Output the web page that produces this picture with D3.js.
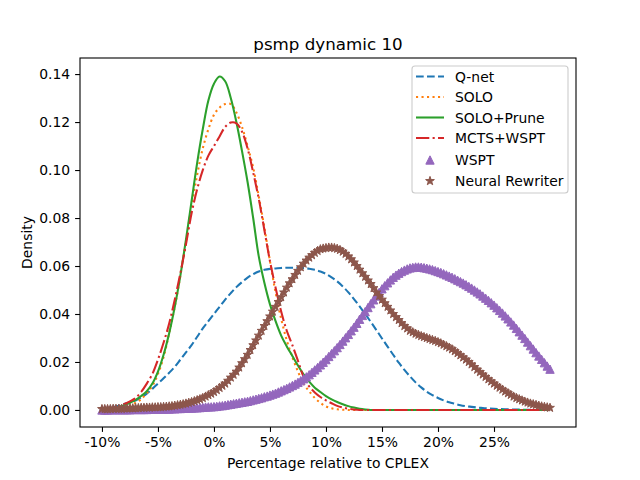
<!DOCTYPE html>
<html>
<head>
<meta charset="utf-8">
<script src="https://cdn.jsdelivr.net/npm/d3@7"></script>
<style>
  body { margin: 0; background: #fff; }
  svg text { font-family: "DejaVu Sans", sans-serif; fill: #000; }
</style>
</head>
<body>
<svg id="chart" width="640" height="480"></svg>
<script>
// x grid of the line curves (percent relative to CPLEX), half steps
var xLine = [-10,-9.5,-9,-8.5,-8,-7.5,-7,-6.5,-6,-5.5,-5,-4.5,-4,-3.5,-3,-2.5,-2,-1.5,-1,-0.5,0,0.5,1,1.5,2,2.5,3,3.5,4,4.5,5,5.5,6,6.5,7,7.5,8,8.5,9,9.5,10,10.5,11,11.5,12,12.5,13,13.5,14,14.5,15,15.5,16,16.5,17,17.5,18,18.5,19,19.5,20,20.5,21,21.5,22,22.5,23,23.5,24,24.5,25,25.5,26,26.5,27,27.5,28,28.5,29,29.5,30];

var qnet = [0.0003,0.0007,0.0012,0.0018,0.0025,0.0031,0.0039,0.0052,0.0068,0.0088,0.011,0.0132,0.0155,0.018,0.021,0.024,0.027,0.0305,0.034,0.037,0.040,0.043,0.046,0.0487,0.0512,0.0533,0.0552,0.0566,0.0577,0.0584,0.0588,0.059,0.0592,0.0593,0.0593,0.0593,0.0592,0.0589,0.0584,0.0577,0.0567,0.0553,0.0536,0.0515,0.049,0.0462,0.0432,0.040,0.0367,0.0333,0.0298,0.0264,0.023,0.0197,0.0167,0.014,0.0115,0.0094,0.0076,0.0062,0.005,0.004,0.0032,0.0026,0.002,0.0016,0.0013,0.001,0.0008,0.0006,0.0005,0.0004,0.0003,0.0002,0.0002,0.0001,0.0001,0,0,0,0];
var solo = [0.0002,0.0003,0.0005,0.0007,0.001,0.0018,0.003,0.0045,0.007,0.010,0.015,0.022,0.032,0.043,0.056,0.070,0.085,0.098,0.109,0.117,0.123,0.126,0.1275,0.1275,0.124,0.118,0.110,0.101,0.089,0.076,0.062,0.049,0.038,0.029,0.022,0.016,0.011,0.0078,0.005,0.003,0.0015,0.0007,0.0003,0.0001,0,0,0,0,0,0,0,0,0,0,0,0,0,0,0,0,0,0,0,0,0,0,0,0,0,0,0,0,0,0,0,0,0,0,0,0,0];
var soloPrune = [0.0003,0.0005,0.0008,0.0013,0.002,0.003,0.0042,0.0058,0.0078,0.011,0.016,0.023,0.032,0.043,0.056,0.071,0.087,0.103,0.117,0.129,0.136,0.139,0.137,0.130,0.120,0.108,0.095,0.080,0.064,0.053,0.044,0.037,0.031,0.0265,0.0225,0.0185,0.0148,0.0118,0.0093,0.0075,0.0058,0.0044,0.0033,0.0024,0.0016,0.001,0.0005,0.0002,0,0,0,0,0,0,0,0,0,0,0,0,0,0,0,0,0,0,0,0,0,0,0,0,0,0,0,0,0,0,0,0,0];
var mctsWspt = [0.0003,0.0006,0.001,0.0016,0.0025,0.0036,0.005,0.0075,0.011,0.015,0.021,0.028,0.036,0.046,0.057,0.069,0.082,0.092,0.100,0.106,0.110,0.114,0.118,0.1198,0.1195,0.116,0.109,0.099,0.088,0.075,0.062,0.051,0.041,0.033,0.027,0.0205,0.0138,0.0098,0.0073,0.0054,0.004,0.0028,0.0017,0.001,0.0005,0.0002,0,0,0,0,0,0,0,0,0,0,0,0,0,0,0,0,0,0,0,0,0,0,0,0,0,0,0,0,0,0,0,0,0,0,0];

// x grid of the marker series, quarter steps
var xMark = [-10,-9.75,-9.5,-9.25,-9,-8.75,-8.5,-8.25,-8,-7.75,-7.5,-7.25,-7,-6.75,-6.5,-6.25,-6,-5.75,-5.5,-5.25,-5,-4.75,-4.5,-4.25,-4,-3.75,-3.5,-3.25,-3,-2.75,-2.5,-2.25,-2,-1.75,-1.5,-1.25,-1,-0.75,-0.5,-0.25,0,0.25,0.5,0.75,1,1.25,1.5,1.75,2,2.25,2.5,2.75,3,3.25,3.5,3.75,4,4.25,4.5,4.75,5,5.25,5.5,5.75,6,6.25,6.5,6.75,7,7.25,7.5,7.75,8,8.25,8.5,8.75,9,9.25,9.5,9.75,10,10.25,10.5,10.75,11,11.25,11.5,11.75,12,12.25,12.5,12.75,13,13.25,13.5,13.75,14,14.25,14.5,14.75,15,15.25,15.5,15.75,16,16.25,16.5,16.75,17,17.25,17.5,17.75,18,18.25,18.5,18.75,19,19.25,19.5,19.75,20,20.25,20.5,20.75,21,21.25,21.5,21.75,22,22.25,22.5,22.75,23,23.25,23.5,23.75,24,24.25,24.5,24.75,25,25.25,25.5,25.75,26,26.25,26.5,26.75,27,27.25,27.5,27.75,28,28.25,28.5,28.75,29,29.25,29.5,29.75,30];

var wspt = [0,0,0,0.0001,0.0001,0.0001,0.0001,0.0001,0.0001,0.0001,0.0001,0.0002,0.0002,0.0002,0.0002,0.0002,0.0002,0.0003,0.0003,0.0003,0.0003,0.0004,0.0004,0.0004,0.0004,0.0005,0.0005,0.0006,0.0006,0.0007,0.0007,0.0008,0.0008,0.0009,0.0009,0.001,0.0011,0.0012,0.0013,0.0013,0.0014,0.0015,0.0017,0.0018,0.002,0.0022,0.0024,0.0026,0.0028,0.003,0.0032,0.0034,0.0036,0.0039,0.0042,0.0045,0.0048,0.0051,0.0055,0.0058,0.0062,0.0066,0.007,0.0075,0.008,0.0085,0.009,0.0096,0.0102,0.0108,0.0115,0.0122,0.013,0.0138,0.0147,0.0157,0.0167,0.0177,0.0188,0.0199,0.021,0.0223,0.0235,0.0247,0.026,0.0273,0.0287,0.0301,0.0315,0.033,0.0345,0.0361,0.0378,0.0394,0.041,0.0427,0.0443,0.0459,0.0475,0.049,0.0505,0.0518,0.053,0.0542,0.0553,0.0562,0.057,0.0577,0.0583,0.0588,0.0592,0.0594,0.0596,0.0596,0.0595,0.0593,0.0591,0.0588,0.0585,0.0581,0.0577,0.0573,0.0568,0.0563,0.0558,0.0553,0.0547,0.0541,0.0535,0.0529,0.0522,0.0515,0.0508,0.05,0.0492,0.0484,0.0475,0.0466,0.0457,0.0447,0.0437,0.0426,0.0415,0.0404,0.0392,0.038,0.0367,0.0354,0.034,0.0326,0.0312,0.0298,0.0283,0.0268,0.0254,0.0239,0.0225,0.0211,0.0197,0.0183,0.017];
var rewriter = [0.0004,0.0004,0.0004,0.0004,0.0005,0.0005,0.0005,0.0005,0.0006,0.0006,0.0007,0.0007,0.0008,0.0008,0.0009,0.0009,0.001,0.001,0.0011,0.0011,0.0012,0.0012,0.0013,0.0014,0.0015,0.0016,0.0018,0.002,0.0022,0.0024,0.0027,0.003,0.0033,0.0037,0.0041,0.0045,0.005,0.0056,0.0062,0.0068,0.0075,0.0083,0.0092,0.0101,0.011,0.0122,0.0135,0.0147,0.016,0.0177,0.0195,0.0212,0.023,0.025,0.027,0.029,0.031,0.033,0.035,0.037,0.039,0.041,0.043,0.045,0.047,0.049,0.051,0.0528,0.0545,0.0563,0.058,0.0595,0.061,0.0623,0.0635,0.0645,0.0655,0.0663,0.067,0.0673,0.0675,0.0677,0.0677,0.0675,0.0672,0.0667,0.066,0.0651,0.064,0.0628,0.0615,0.06,0.0585,0.057,0.0555,0.054,0.0525,0.0508,0.049,0.0475,0.046,0.0445,0.043,0.0415,0.040,0.0387,0.0375,0.0362,0.035,0.034,0.033,0.0324,0.0318,0.0313,0.0308,0.0304,0.030,0.0296,0.0292,0.0288,0.0283,0.0278,0.0272,0.0266,0.026,0.0253,0.0245,0.0237,0.0228,0.0219,0.021,0.02,0.019,0.0179,0.0168,0.0158,0.0148,0.0138,0.0128,0.0119,0.011,0.0101,0.0093,0.0085,0.0077,0.007,0.0063,0.0056,0.005,0.0045,0.004,0.0035,0.0031,0.0027,0.0024,0.0021,0.0018,0.0015,0.0013,0.0011,0.0009];

var xTicks = [-10,-5,0,5,10,15,20,25];
var xTickLabels = ['-10%','-5%','0%','5%','10%','15%','20%','25%'];
var yTicks = [0,0.02,0.04,0.06,0.08,0.10,0.12,0.14];
var yTickLabels = ['0.00','0.02','0.04','0.06','0.08','0.10','0.12','0.14'];

var svg = d3.select('#chart');
// plot box (top is a reserved window prop, so prefixed)
var axL = 80, axR = 576, axT = 58, axB = 427;

var x = d3.scaleLinear().domain([-11.96, 32.32]).range([axL, axR]);
var y = d3.scaleLinear().domain([-0.0071, 0.1467]).range([axB, axT]);

var plot = svg.append('g');
plot.append('clipPath').attr('id', 'clip')
  .append('rect').attr('x', axL).attr('y', axT).attr('width', axR - axL).attr('height', axB - axT);

var line = d3.line()
  .x(function(d) { return x(d[0]); })
  .y(function(d) { return y(d[1]); })
  .curve(d3.curveCatmullRom.alpha(0.5));

function zip(xs, ys) {
  return xs.map(function(v, i) { return [v, ys[i]]; });
}

// line series, matplotlib styles
var lineSeries = [
  { name: 'Q-net', data: qnet, color: '#1f77b4', dash: '7.7,3.3' },
  { name: 'SOLO', data: solo, color: '#ff7f0e', dash: '2.1,3.4' },
  { name: 'SOLO+Prune', data: soloPrune, color: '#2ca02c', dash: null },
  { name: 'MCTS+WSPT', data: mctsWspt, color: '#d62728', dash: '13.3,3.3,2.1,3.3' }
];

var g = plot.append('g').attr('clip-path', 'url(#clip)');
lineSeries.forEach(function(s) {
  g.append('path')
    .attr('d', line(zip(xLine, s.data)))
    .attr('fill', 'none')
    .attr('stroke', s.color)
    .attr('stroke-width', 2.08)
    .attr('stroke-dasharray', s.dash);
});

// marker shapes
var triPath = 'M0,-4.17L4.17,4.17L-4.17,4.17Z';
function starPath(r1, r2) {
  var pts = [];
  for (var i = 0; i < 10; i++) {
    var r = i % 2 == 0 ? r1 : r2;
    var a = -Math.PI / 2 + i * Math.PI / 5;
    pts.push([r * Math.cos(a), r * Math.sin(a)]);
  }
  return 'M' + pts.map(function(p) { return p[0].toFixed(2) + ',' + p[1].toFixed(2); }).join('L') + 'Z';
}
var starP = starPath(4.6, 1.8);

var markSeries = [
  { name: 'WSPT', data: wspt, color: '#9467bd', shape: triPath },
  { name: 'Neural Rewriter', data: rewriter, color: '#8c564b', shape: starP }
];

markSeries.forEach(function(s) {
  g.append('g').selectAll('path')
    .data(zip(xMark, s.data))
    .enter()
    .append('path')
    .attr('d', s.shape)
    .attr('transform', function(d) { return 'translate(' + x(d[0]) + ',' + y(d[1]) + ')'; })
    .attr('fill', s.color)
    .attr('stroke', s.color)
    .attr('stroke-width', 1);
});

// axes
var xAxis = d3.axisBottom(x).tickValues(xTicks).tickSize(4.9).tickPadding(4.9)
  .tickFormat(function(d, i) { return xTickLabels[i]; });
var yAxis = d3.axisLeft(y).tickValues(yTicks).tickSize(4.9).tickPadding(4.9)
  .tickFormat(function(d, i) { return yTickLabels[i]; });

var gx = svg.append('g').attr('transform', 'translate(0,' + axB + ')').call(xAxis);
var gy = svg.append('g').attr('transform', 'translate(' + axL + ',0)').call(yAxis);
[gx, gy].forEach(function(ax) {
  ax.select('.domain').remove();
  ax.selectAll('line').attr('stroke', '#000').attr('stroke-width', 1.1);
  ax.selectAll('text').attr('font-size', '13.9px').attr('font-family', 'DejaVu Sans').attr('fill', '#000');
});

svg.append('rect')
  .attr('x', axL).attr('y', axT).attr('width', axR - axL).attr('height', axB - axT)
  .attr('fill', 'none').attr('stroke', '#000').attr('stroke-width', 1.1);

// title + labels
svg.append('text').attr('x', (axL + axR) / 2).attr('y', 49.5)
  .attr('text-anchor', 'middle').attr('font-size', '16.7px').text('psmp dynamic 10');
svg.append('text').attr('x', (axL + axR) / 2).attr('y', 468)
  .attr('text-anchor', 'middle').attr('font-size', '13.9px').text('Percentage relative to CPLEX');
svg.append('text').attr('transform', 'translate(32,' + ((axT + axB) / 2) + ') rotate(-90)')
  .attr('text-anchor', 'middle').attr('font-size', '13.9px').text('Density');

// legend
var leg = svg.append('g');
leg.append('rect').attr('x', 412).attr('y', 66).attr('width', 156).attr('height', 127).attr('rx', 3)
  .attr('fill', '#fff').attr('fill-opacity', 0.8).attr('stroke', '#cccccc').attr('stroke-width', 1.1);

var rowY = [76.5, 97, 117.5, 138, 160, 181];
lineSeries.forEach(function(s, i) {
  leg.append('line').attr('x1', 416).attr('x2', 444).attr('y1', rowY[i]).attr('y2', rowY[i])
    .attr('stroke', s.color).attr('stroke-width', 2.08).attr('stroke-dasharray', s.dash);
  leg.append('text').attr('x', 455).attr('y', rowY[i] + 5).attr('font-size', '13.9px').text(s.name);
});
markSeries.forEach(function(s, j) {
  var i = j + 4;
  leg.append('path').attr('d', s.shape).attr('transform', 'translate(430,' + rowY[i] + ')')
    .attr('fill', s.color).attr('stroke', s.color).attr('stroke-width', 1);
  leg.append('text').attr('x', 455).attr('y', rowY[i] + 5).attr('font-size', '13.9px').text(s.name);
});
</script>
</body>
</html>
